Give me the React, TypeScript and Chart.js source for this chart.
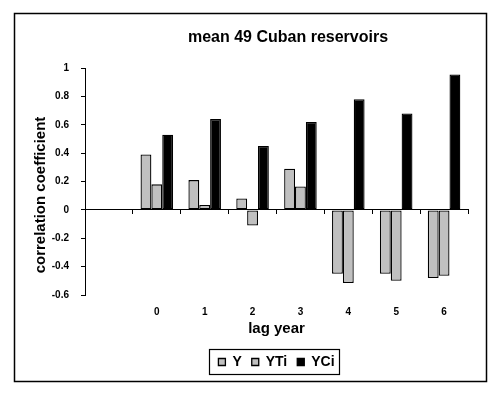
import React, { useEffect, useRef } from "react";
import { Chart, registerables } from "chart.js";

Chart.register(...registerables);

const chartTitle = "mean 49 Cuban reservoirs";
const yAxisTitle = "correlation coefficient";
const xAxisTitle = "lag year";
const categories = ["", "0", "1", "2", "3", "4", "5", "6"];
const seriesY = [null, 0.39, 0.21, 0.08, 0.29, -0.45, -0.45, -0.48];
const seriesYTi = [null, 0.18, 0.035, -0.11, 0.165, -0.515, -0.5, -0.465];
const seriesYCi = [null, 0.53, 0.64, 0.45, 0.62, 0.78, 0.68, 0.955];
const yMin = -0.6;
const yMax = 1;
const yStep = 0.2;

const FONT = "'Liberation Sans', Arial, sans-serif";

const framePlugin = {
  id: "frameAndTexts",
  beforeDraw(chart: any) {
    const ctx = chart.ctx;
    ctx.save();
    ctx.fillStyle = "#ffffff";
    ctx.fillRect(0, 0, chart.width, chart.height);
    ctx.strokeStyle = "#000";
    ctx.lineWidth = 1.5;
    ctx.strokeRect(14.5, 13.5, 472, 368);
    ctx.restore();
  },
  afterDraw(chart: any) {
    const ctx = chart.ctx;
    ctx.save();
    ctx.fillStyle = "#000";
    ctx.font = `bold 16px ${FONT}`;
    ctx.textAlign = "center";
    ctx.textBaseline = "middle";
    ctx.fillText(chartTitle, 288, 38);
    ctx.translate(41, 195);
    ctx.rotate(-Math.PI / 2);
    ctx.font = `bold 15px ${FONT}`;
    ctx.fillText(yAxisTitle, 0, 0);
    ctx.restore();
    const lg = chart.legend;
    if (lg && lg.legendHitBoxes && lg.legendHitBoxes.length) {
      const hb = lg.legendHitBoxes;
      let l = Infinity, r = -Infinity, t = Infinity, b = -Infinity;
      hb.forEach((h: any) => {
        l = Math.min(l, h.left);
        r = Math.max(r, h.left + h.width);
        t = Math.min(t, h.top);
        b = Math.max(b, h.top + h.height);
      });
      ctx.save();
      ctx.strokeStyle = "#000";
      ctx.lineWidth = 1.2;
      ctx.strokeRect(Math.round(l - 9) + 0.5, Math.round(t - 6) + 0.5, Math.round(r - l + 14), Math.round(b - t + 11));
      ctx.restore();
    }
  },
};

export default function App() {
  const ref = useRef<HTMLCanvasElement | null>(null);
  useEffect(() => {
    if (!ref.current) return;
    const chart = new Chart(ref.current, {
      type: "bar",
      data: {
        labels: categories,
        datasets: [
          { label: "Y", data: seriesY as any, backgroundColor: "#c0c0c0", borderColor: "#000", borderWidth: 1.3, borderSkipped: false },
          { label: "YTi", data: seriesYTi as any, backgroundColor: "#c0c0c0", borderColor: "#000", borderWidth: 1.3, borderSkipped: false },
          { label: "YCi", data: seriesYCi as any, backgroundColor: "#000000", borderColor: "#000", borderWidth: 1.3, borderSkipped: false },
        ],
      },
      options: {
        animation: false,
        responsive: false,
        maintainAspectRatio: false,
        datasets: { bar: { categoryPercentage: 0.68, barPercentage: 1 } } as any,
        layout: { padding: { left: 15, right: 32, top: 68, bottom: 15 } },
        plugins: {
          title: { display: false },
          tooltip: { enabled: false },
          legend: {
            display: true,
            position: "bottom",
            fullSize: false,
            labels: {
              color: "#000",
              font: { family: FONT, size: 14, weight: "bold" },
              boxWidth: 7,
              boxHeight: 7,
              padding: 10,
            },
          },
        },
        scales: {
          x: {
            type: "category",
            offset: true,
            grid: { display: false, drawTicks: false, offset: true },
            border: { display: false },
            ticks: { color: "#000", font: { family: FONT, size: 10, weight: "bold" }, padding: 11, maxRotation: 0, autoSkip: false },
            title: { display: true, text: xAxisTitle, color: "#000", font: { family: FONT, size: 15, weight: "bold" }, padding: { top: 4, bottom: 7 } },
            afterFit(scale: any) { scale.height = 50; },
          },
          x2: {
            type: "category",
            position: { y: 0 } as any,
            offset: true,
            grid: { display: true, drawOnChartArea: false, drawTicks: true, tickLength: 4, offset: true, color: "#000" },
            border: { display: true, color: "#000", width: 1 },
            ticks: { display: false },
          },
          y: {
            min: yMin,
            max: yMax,
            ticks: {
              stepSize: yStep,
              color: "#000",
              font: { family: FONT, size: 10, weight: "bold" },
              padding: 12,
              callback: (v: any) => String(Math.round(Number(v) * 10) / 10),
            },
            grid: { display: true, drawOnChartArea: false, drawTicks: true, tickLength: 4, color: "#000" },
            border: { display: true, color: "#000", width: 1 },
            afterFit(scale: any) { scale.width = 70; },
          },
        },
      },
      plugins: [framePlugin],
    });
    return () => chart.destroy();
  }, []);
  return (
    <div style={{ position: "absolute", left: 0, top: 0, width: 500, height: 394 }}>
      <canvas ref={ref} width={500} height={394} />
    </div>
  );
}
